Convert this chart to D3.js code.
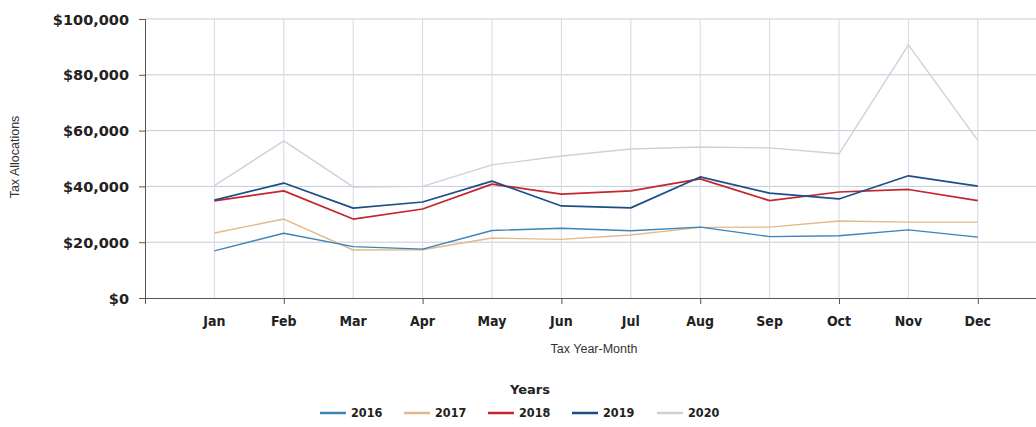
<!DOCTYPE html>
<html>
<head>
<meta charset="utf-8">
<script src="https://cdn.jsdelivr.net/npm/d3@7"></script>
<style>
  html, body { margin: 0; padding: 0; background: #ffffff; }
  svg { display: block; }
</style>
</head>
<body>
<svg id="chart" width="1036" height="427"></svg>
<script>
const months = ["Jan","Feb","Mar","Apr","May","Jun","Jul","Aug","Sep","Oct","Nov","Dec"];
const years = ["2016","2017","2018","2019","2020"];
const yTicks = [0, 20000, 40000, 60000, 80000, 100000];
const colors = ["#3a84b8", "#e2b98a", "#c4262e", "#1d4f86", "#cdd1d9"];

const v2016 = [16900, 23200, 18400, 17500, 24200, 25000, 24100, 25400, 22000, 22300, 24400, 21800];
const v2017 = [23300, 28300, 17200, 17300, 21500, 21000, 22600, 25300, 25400, 27600, 27200, 27200];
const v2018 = [34800, 38400, 28300, 31900, 40800, 37200, 38400, 42700, 34900, 38000, 38900, 34900];
const v2019 = [35100, 41200, 32200, 34400, 41900, 33000, 32300, 43400, 37600, 35500, 43800, 40100];
const v2020 = [40300, 56300, 39800, 40000, 47700, 50900, 53400, 54100, 53800, 51700, 90700, 56500];
const seriesValues = [v2016, v2017, v2018, v2019, v2020];

const svg = d3.select("#chart");
const mLeft = 145, mRight = 1036, mTop = 19, mBottom = 298;
const step = 69.4;

// index scale: month i sits at position i+1
const x = d3.scaleLinear().domain([0, (mRight - mLeft) / step]).range([mLeft, mRight]);
const y = d3.scaleLinear().domain([0, 100000]).range([mBottom, mTop]);

// grid
const grid = svg.append("g");
grid.selectAll("line.h").data(yTicks.filter(d => d > 0)).enter().append("line")
  .attr("x1", mLeft).attr("x2", mRight)
  .attr("y1", d => y(d)).attr("y2", d => y(d))
  .attr("stroke", "#c5ccd8").attr("stroke-width", 1);
grid.selectAll("line.v").data(months).enter().append("line")
  .attr("x1", (d, i) => x(i + 1)).attr("x2", (d, i) => x(i + 1))
  .attr("y1", mTop).attr("y2", mBottom)
  .attr("stroke", "#d3d8e2").attr("stroke-width", 1);

// y axis
const yAxis = d3.axisLeft(y).tickValues(yTicks).tickSize(6).tickPadding(10)
  .tickFormat(d => "$" + d3.format(",")(d));
const gy = svg.append("g").attr("transform", `translate(${mLeft},0)`).call(yAxis);
gy.select(".domain").attr("stroke", "#555");
gy.selectAll(".tick line").attr("stroke", "#555");
gy.selectAll("text").attr("font-family", "DejaVu Sans").attr("font-weight", "bold")
  .attr("font-size", "14.5px").attr("fill", "#222").attr("dy", "0.35em");

// x axis
const xAxis = d3.axisBottom(x).tickValues([0, 2, 4, 6, 8, 10, 12]).tickSize(6).tickFormat("");
const gx = svg.append("g").attr("transform", `translate(0,${mBottom})`).call(xAxis);
gx.select(".domain").attr("stroke", "#555").attr("d", `M${mLeft},0.5H${mRight}`);
gx.selectAll(".tick line").attr("stroke", "#555");

svg.append("g").selectAll("text").data(months).enter().append("text")
  .attr("x", (d, i) => x(i + 1)).attr("y", 326)
  .attr("text-anchor", "middle")
  .attr("font-family", "DejaVu Sans Condensed, DejaVu Sans").attr("font-weight", "bold")
  .attr("font-size", "14px").attr("fill", "#222")
  .text(d => d);

// axis titles
svg.append("text").attr("x", 594).attr("y", 353).attr("text-anchor", "middle")
  .attr("font-family", "Liberation Sans Narrow, Liberation Sans").attr("font-size", "12.5px").attr("fill", "#333")
  .text("Tax Year-Month");
svg.append("text").attr("transform", "translate(19,157) rotate(-90)").attr("text-anchor", "middle")
  .attr("font-family", "Liberation Sans").attr("font-size", "12.5px").attr("fill", "#333")
  .text("Tax Allocations");

// lines
const line = d3.line().x((d, i) => x(i + 1)).y(d => y(d));
const order = [4, 1, 0, 2, 3];
svg.append("g").selectAll("path").data(order).enter().append("path")
  .attr("d", k => line(seriesValues[k]))
  .attr("fill", "none").attr("stroke", k => colors[k])
  .attr("stroke-width", k => (k === 2 || k === 3) ? 1.7 : 1.4)
  .attr("stroke-linejoin", "round");

// legend
svg.append("text").attr("x", 530).attr("y", 394).attr("text-anchor", "middle")
  .attr("font-family", "DejaVu Sans").attr("font-weight", "bold").attr("font-size", "13px").attr("fill", "#222")
  .text("Years");
const legendX = [320, 404, 488, 572, 657];
const lg = svg.append("g").selectAll("g").data(years).enter().append("g")
  .attr("transform", (d, i) => `translate(${legendX[i]},413)`);
lg.append("line").attr("x1", 0).attr("x2", 26).attr("y1", 0).attr("y2", 0)
  .attr("stroke", (d, i) => colors[i]).attr("stroke-width", 2.5);
lg.append("text").attr("x", 31).attr("y", 0).attr("dy", "0.35em")
  .attr("font-family", "DejaVu Sans Condensed, DejaVu Sans").attr("font-weight", "bold")
  .attr("font-size", "12.5px").attr("fill", "#222")
  .text(d => d);
</script>
</body>
</html>
